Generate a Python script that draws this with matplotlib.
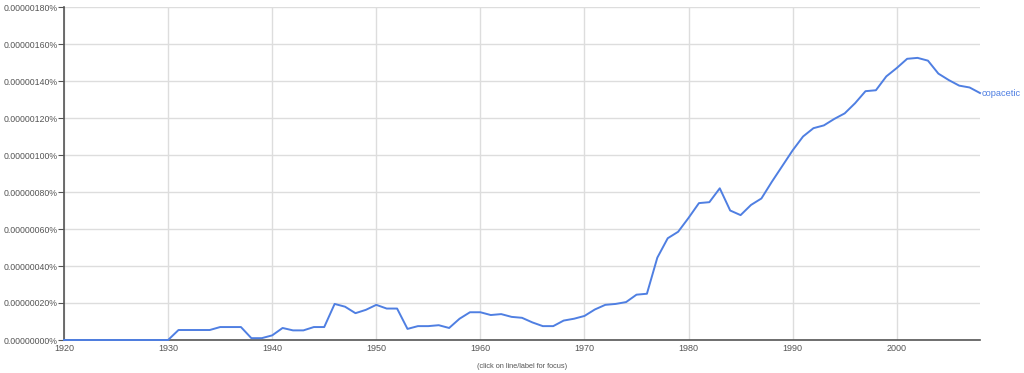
import matplotlib
matplotlib.use("Agg")
import matplotlib.pyplot as plt
from matplotlib.ticker import FuncFormatter, MultipleLocator

years = list(range(1920, 2009))
# values in units of 1e-8 percent
values = [0]*11 + [
    5.4, 5.4, 5.4, 5.4, 7, 7, 7, 1, 1,          # 1931-1939
    2.5, 6.5, 5.2, 5.2, 7, 7, 19.5, 18, 14.5, 16.3,  # 1940-1949
    19, 17, 17, 6, 7.5, 7.5, 8, 6.5, 11.5, 15,   # 1950-1959
    15, 13.5, 14, 12.5, 12, 9.5, 7.5, 7.5, 10.5, 11.5,  # 1960-1969
    13, 16.5, 19, 19.5, 20.5, 24.5, 25, 44.5, 55, 58.5,  # 1970-1979
    66, 74, 74.5, 82, 70, 67.5, 73, 76.5, 85.5, 94,      # 1980-1989
    102.5, 110, 114.5, 116, 119.5, 122.5, 128, 134.5, 135, 142.5,  # 1990-1999
    147, 152, 152.5, 151, 144, 140.5, 137.5, 136.5, 133.5,  # 2000-2008
]
series_name = "copacetic"
scale = 1e-8  # percent per unit

plt.rcParams['font.family'] = ['Liberation Sans', 'DejaVu Sans']

fig = plt.figure(figsize=(10.24, 3.73), dpi=100)
ax = fig.add_axes([64/1024, 1-340/373, (980-64)/1024, (340-7)/373])

line_color = '#4f7fe2'
ys = [v*scale for v in values]
ax.plot(years, ys, color=line_color, lw=1.4, clip_on=False, zorder=3)
ax.text(years[-1] + 0.2, ys[-1], series_name, color=line_color, fontsize=6.7,
        va='center', ha='left')

ax.set_xlim(1920, 2008)
ax.set_ylim(0, 180*scale)
ax.xaxis.set_major_locator(MultipleLocator(10))
ax.yaxis.set_major_locator(MultipleLocator(20*scale))
ax.yaxis.set_major_formatter(FuncFormatter(lambda v, p: f"{v:.8f}%"))

ax.grid(True, color='#dddddd', lw=1)
ax.set_axisbelow(True)
for s in ['top', 'right']:
    ax.spines[s].set_visible(False)
for s in ['left', 'bottom']:
    ax.spines[s].set_color('#555555')
    ax.spines[s].set_linewidth(1.2)
ax.tick_params(axis='y', labelsize=6.3, labelcolor='#555555', color='#555555',
               length=4, pad=0.5)
ax.tick_params(axis='x', labelsize=6.5, labelcolor='#555555', color='#555555',
               length=0, pad=3)

fig.text((64+980)/2/1024, 1-366/373, "(click on line/label for focus)",
         fontsize=5.3, color='#555555', ha='center', va='center')

fig.savefig("out.png", dpi=100)
